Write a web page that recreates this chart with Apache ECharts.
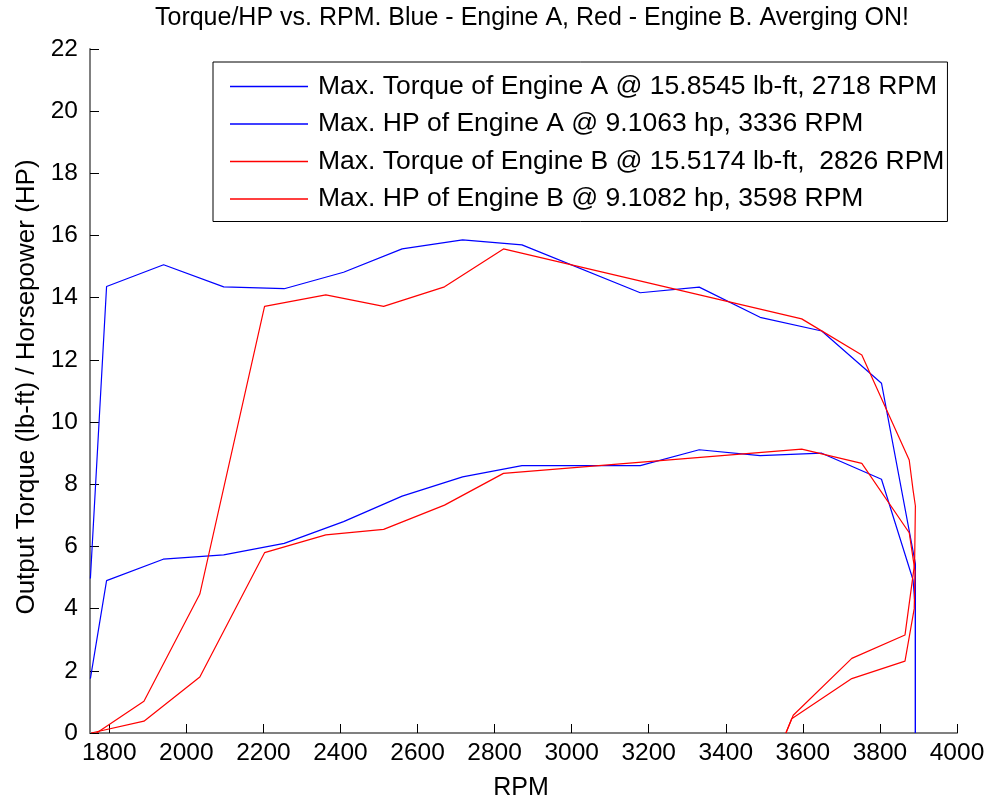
<!DOCTYPE html>
<html>
<head>
<meta charset="utf-8">
<script src="https://cdn.jsdelivr.net/npm/echarts@6/dist/echarts.min.js"></script>
<style>
  html, body { margin: 0; padding: 0; background: #fff; }
  #chart { width: 990px; height: 803px; }
</style>
</head>
<body>
<div id="chart"></div>
<script>
// Engine A (blue): torque and horsepower against RPM
const torqueA_rpm = [1751, 1793, 1941, 2097, 2254, 2408, 2560, 2717, 2871, 3178, 3331, 3489, 3649, 3804, 3892, 3892];
const torqueA_val = [4.97, 14.36, 15.06, 14.35, 14.29, 14.82, 15.57, 15.86, 15.70, 14.16, 14.34, 13.37, 12.93, 11.25, 5.45, 0];
const hpA_rpm = [1751, 1793, 1940, 2097, 2254, 2408, 2560, 2717, 2871, 3178, 3331, 3489, 3649, 3804, 3886, 3892, 3892];
const hpA_val = [1.75, 4.90, 5.59, 5.73, 6.10, 6.80, 7.62, 8.24, 8.60, 8.60, 9.11, 8.92, 9.00, 8.16, 4.92, 3.95, 0];

// Engine B (red): torque and horsepower against RPM
const torqueB_rpm = [1767, 1890, 2035, 2203, 2362, 2512, 2670, 2823, 3597, 3753, 3876, 3886, 3892, 3890, 3865, 3727, 3575, 3556];
const torqueB_val = [0, 1.02, 4.47, 13.72, 14.09, 13.72, 14.35, 15.57, 13.32, 12.16, 8.78, 7.81, 7.30, 5.45, 3.15, 2.40, 0.57, 0];
const hpB_rpm = [1753, 1890, 2035, 2203, 2362, 2512, 2670, 2823, 3597, 3753, 3876, 3891, 3889, 3865, 3727, 3571, 3556];
const hpB_val = [0, 0.38, 1.80, 5.80, 6.37, 6.55, 7.33, 8.35, 9.13, 8.67, 6.44, 5.20, 4.00, 2.31, 1.75, 0.46, 0];

const seriesNames = [
  'Max. Torque of Engine A @ 15.8545 lb-ft, 2718 RPM',
  'Max. HP of Engine A @ 9.1063 hp, 3336 RPM',
  'Max. Torque of Engine B @ 15.5174 lb-ft,  2826 RPM',
  'Max. HP of Engine B @ 9.1082 hp, 3598 RPM'
];

const xTicks = [1800, 2000, 2200, 2400, 2600, 2800, 3000, 3200, 3400, 3600, 3800, 4000];

const titleText = 'Torque/HP vs. RPM. Blue - Engine A, Red - Engine B. Averging ON!';
const xName = 'RPM';
const yName = 'Output Torque (lb-ft) / Horsepower (HP)';

const FONT = '"Liberation Sans", Arial, Helvetica, sans-serif';

function pairs(xs, ys) {
  return xs.map((x, i) => [x, ys[i]]);
}

function lineSeries(name, color, xs, ys) {
  return {
    name: name,
    type: 'line',
    data: pairs(xs, ys),
    showSymbol: false,
    symbol: 'none',
    animation: false,
    clip: true,
    lineStyle: { color: color, width: 1.2 },
    itemStyle: { color: color }
  };
}

const chart = echarts.init(document.getElementById('chart'), null, { renderer: 'canvas' });

chart.setOption({
  backgroundColor: '#ffffff',
  animation: false,
  grid: { left: 90, right: 33, top: 49, bottom: 70, containLabel: false },
  xAxis: {
    type: 'value',
    min: 1750,
    max: 4000,
    axisLine: { show: true, lineStyle: { color: '#808080', width: 2 } },
    axisTick: {
      show: true, inside: true, length: 9,
      customValues: xTicks,
      lineStyle: { color: '#000', width: 1 }
    },
    axisLabel: {
      customValues: xTicks,
      formatter: (v) => String(v),
      color: '#000', fontFamily: FONT, fontSize: 24.5, margin: 8,
      showMinLabel: true, showMaxLabel: true
    },
    splitLine: { show: false }
  },
  yAxis: {
    type: 'value',
    min: 0,
    max: 22,
    interval: 2,
    axisLine: { show: true, lineStyle: { color: '#808080', width: 2 } },
    axisTick: { show: true, inside: true, length: 9, lineStyle: { color: '#000', width: 1 } },
    axisLabel: { formatter: (v) => String(v), color: '#000', fontFamily: FONT, fontSize: 24.5, margin: 12 },
    splitLine: { show: false }
  },
  legend: {
    show: true,
    orient: 'vertical',
    left: 213,
    top: 62,
    padding: [11, 3, 9, 17],
    itemGap: 10.5,
    itemWidth: 78,
    itemHeight: 1.5,
    icon: 'rect',
    backgroundColor: '#fff',
    borderColor: '#000',
    borderWidth: 1,
    selectedMode: false,
    textStyle: {
      color: '#000', fontFamily: FONT, fontSize: 26.5, lineHeight: 26.5,
      padding: [0, 0, 0, 5]
    },
    data: seriesNames
  },
  graphic: [
    {
      type: 'text',
      x: 532, y: 18,
      style: { text: titleText, fill: '#000', font: '25px ' + FONT, textAlign: 'center', textVerticalAlign: 'middle' }
    },
    {
      type: 'text',
      x: 521, y: 788,
      style: { text: xName, fill: '#000', font: '25px ' + FONT, textAlign: 'center', textVerticalAlign: 'middle' }
    },
    {
      type: 'text',
      x: 27, y: 387,
      rotation: Math.PI / 2,
      style: { text: yName, fill: '#000', font: '26px ' + FONT, textAlign: 'center', textVerticalAlign: 'middle' }
    }
  ],
  series: [
    lineSeries(seriesNames[0], '#0000ff', torqueA_rpm, torqueA_val),
    lineSeries(seriesNames[1], '#0000ff', hpA_rpm, hpA_val),
    lineSeries(seriesNames[2], '#ff0000', torqueB_rpm, torqueB_val),
    lineSeries(seriesNames[3], '#ff0000', hpB_rpm, hpB_val)
  ]
});
</script>
</body>
</html>
